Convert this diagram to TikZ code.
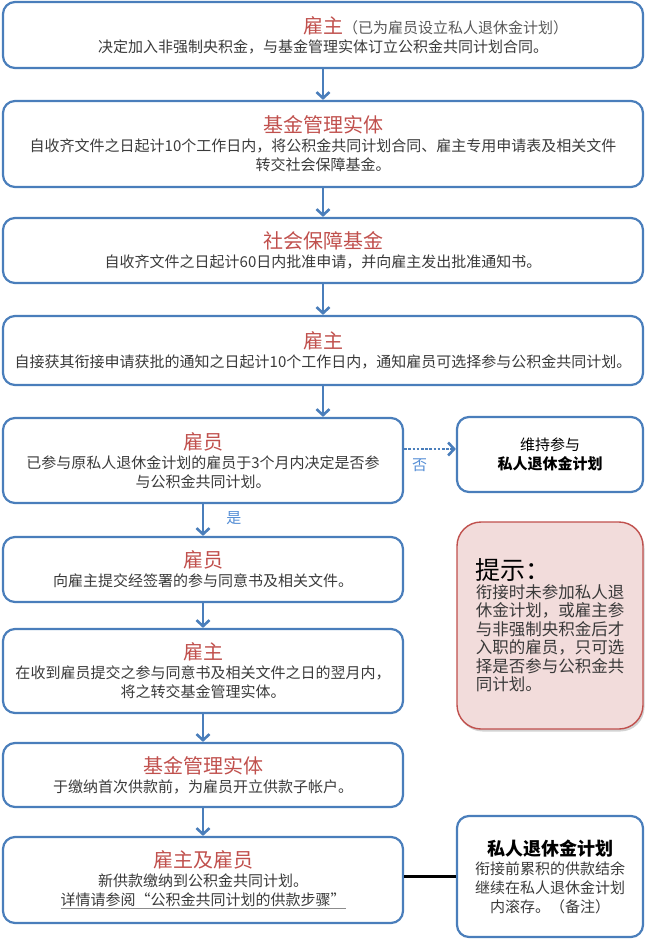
\documentclass[tikz,border=0pt]{standalone}
\usepackage{fontspec}
\setmainfont{Noto Sans CJK SC}
\usetikzlibrary{positioning,arrows.meta,shadows}

\definecolor{boxblue}{HTML}{4A7EBB}
\definecolor{titlered}{HTML}{C0504D}
\definecolor{hintpink}{HTML}{F2DCDB}
\definecolor{labelblue}{HTML}{558ED5}
\definecolor{bodygray}{HTML}{3A3A3A}

\newcommand{\boxtitle}[1]{{\color{titlered}\fontsize{20}{22}\selectfont #1}}
\newcommand{\ulgray}[1]{{\color{black!45}\underline{\textcolor{bodygray}{#1}}}}

\tikzset{
flownode/.style={rectangle, rounded corners=12pt, draw=boxblue, line width=2.2pt, inner sep=0pt,
                 align=center, text=bodygray, font=\fontsize{15}{19}\selectfont},
sidenode/.style={flownode, minimum width=186pt},
hintnode/.style={rectangle, rounded corners=24pt, draw=titlered, line width=1.4pt, fill=hintpink,
                 inner sep=0pt, align=left, text=bodygray, font=\fontsize{16.5}{18.5}\selectfont,
                 minimum width=186pt, minimum height=207pt,
                 drop shadow={opacity=0.35, shadow xshift=1.5pt, shadow yshift=-2.5pt}},
>={Straight Barb[length=6pt,width=13pt]},
flowarrow/.style={->, draw=boxblue, line width=2.6pt},
dotarrow/.style={->, draw=boxblue, line width=2.6pt, dash pattern=on 2.6pt off 1.6pt},
ynlabel/.style={text=labelblue, inner sep=0pt, font=\fontsize{15}{17}\selectfont}
}

\begin{document}
\begin{tikzpicture}[x=1pt, y=-1pt]
\useasboundingbox (0,0) rectangle (650,939);

%Main flow
\node[flownode, minimum width=640pt, minimum height=66pt] (emp1) at(323,35)
  {\boxtitle{雇主}\rlap{\color{black!65}（已为雇员设立私人退休金计划）}\\
   决定加入非强制央积金，与基金管理实体订立公积金共同计划合同。};
\node[flownode, minimum width=640pt, minimum height=86pt] (fund1) at(323,144)
  {\boxtitle{基金管理实体}\\
   自收齐文件之日起计10个工作日内，将公积金共同计划合同、雇主专用申请表及相关文件\\
   转交社会保障基金。};
\node[flownode, minimum width=640pt, minimum height=65pt] (ssf) at(323,250.5)
  {\boxtitle{社会保障基金}\\
   自收齐文件之日起计60日内批准申请，并向雇主发出批准通知书。};
\node[flownode, minimum width=640pt, minimum height=69pt] (emp2) at(323,350.5)
  {\boxtitle{雇主}\\
   自接获其衔接申请获批的通知之日起计10个工作日内，通知雇员可选择参与公积金共同计划。};
\node[flownode, minimum width=400pt, minimum height=85pt] (ee1) at(203,460.5)
  {\boxtitle{雇员}\\
   已参与原私人退休金计划的雇员于3个月内决定是否参\\
   与公积金共同计划。};
\node[flownode, minimum width=400pt, minimum height=65pt] (ee2) at(203,569.5)
  {\boxtitle{雇员}\\
   向雇主提交经签署的参与同意书及相关文件。};
\node[flownode, minimum width=400pt, minimum height=84pt] (emp3) at(203,671)
  {\boxtitle{雇主}\\
   在收到雇员提交之参与同意书及相关文件之日的翌月内，\\
   将之转交基金管理实体。};
\node[flownode, minimum width=400pt, minimum height=64pt] (fund2) at(203,775)
  {\boxtitle{基金管理实体}\\
   于缴纳首次供款前，为雇员开立供款子帐户。};
\node[flownode, minimum width=400pt, minimum height=86pt] (both) at(203,880)
  {\boxtitle{雇主及雇员}\\
   新供款缴纳到公积金共同计划。\\
   \ulgray{详情请参阅“公积金共同计划的供款步骤”}};

%Side boxes
\node[sidenode, minimum height=75pt, text=black] (keep) at(550,454.5)
  {维持参与\\ \textbf{私人退休金计划}};
\node[sidenode, minimum height=121pt] (priv) at(550,876.5)
  {{\color{black}\fontsize{18}{20}\selectfont\bfseries 私人退休金计划}\\
   衔接前累积的供款结余\\
   继续在私人退休金计划\\
   内滚存。（备注）};
\node[hintnode] (hint) at(550,625.5)
  {{\color{black}\fontsize{25}{27}\selectfont 提示：}\\
   衔接时未参加私人退\\
   休金计划，或雇主参\\
   与非强制央积金后才\\
   入职的雇员，只可选\\
   择是否参与公积金共\\
   同计划。};

%Connectors
\coordinate (noy) at(0,449);
\draw[flowarrow] (emp1.south) -- (fund1.north);
\draw[flowarrow] (fund1.south) -- (ssf.north);
\draw[flowarrow] (ssf.south) -- (emp2.north);
\draw[flowarrow] (emp2.south) -- (emp2.south |- ee1.north);
\draw[flowarrow] (ee1.south) -- node[ynlabel, right=22pt, pos=0.45] (yes) {是} (ee2.north);
\draw[flowarrow] (ee2.south) -- (emp3.north);
\draw[flowarrow] (emp3.south) -- (fund2.north);
\draw[flowarrow] (fund2.south) -- (both.north);
\draw[dotarrow] (ee1.east |- noy) -- node[ynlabel, below=8pt, pos=0.3] (no) {否} (keep.west |- noy);
\draw[line width=3.2pt] (both.east |- priv.west) -- (priv.west);
\end{tikzpicture}
\end{document}
